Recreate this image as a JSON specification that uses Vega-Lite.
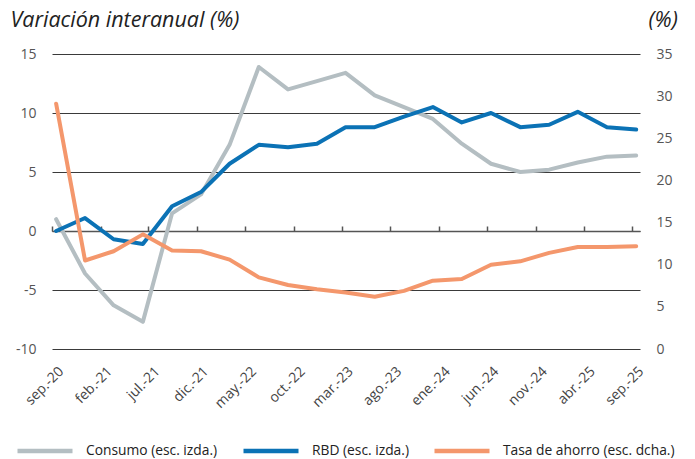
{
  "$schema": "https://vega.github.io/schema/vega-lite/v6.json",
  "width": 588,
  "height": 295,
  "autosize": {"type": "none"},
  "padding": {"left": 52, "top": 54, "right": 55, "bottom": 110},
  "background": "white",
  "config": {
    "view": {"stroke": null},
    "font": "Open Sans",
    "axis": {"labelFont": "Open Sans", "titleFont": "Open Sans"},
    "legend": {"labelFont": "Open Sans"}
  },
  "data": {
    "values": [
      {"date": "2020-09-01", "series": "Consumo (esc. izda.)", "value": 1.0},
      {"date": "2020-12-01", "series": "Consumo (esc. izda.)", "value": -3.6},
      {"date": "2021-03-01", "series": "Consumo (esc. izda.)", "value": -6.3},
      {"date": "2021-06-01", "series": "Consumo (esc. izda.)", "value": -7.7},
      {"date": "2021-09-01", "series": "Consumo (esc. izda.)", "value": 1.5},
      {"date": "2021-12-01", "series": "Consumo (esc. izda.)", "value": 3.1},
      {"date": "2022-03-01", "series": "Consumo (esc. izda.)", "value": 7.3},
      {"date": "2022-06-01", "series": "Consumo (esc. izda.)", "value": 13.9},
      {"date": "2022-09-01", "series": "Consumo (esc. izda.)", "value": 12.0},
      {"date": "2022-12-01", "series": "Consumo (esc. izda.)", "value": 12.7},
      {"date": "2023-03-01", "series": "Consumo (esc. izda.)", "value": 13.4},
      {"date": "2023-06-01", "series": "Consumo (esc. izda.)", "value": 11.5},
      {"date": "2023-09-01", "series": "Consumo (esc. izda.)", "value": 10.5},
      {"date": "2023-12-01", "series": "Consumo (esc. izda.)", "value": 9.5},
      {"date": "2024-03-01", "series": "Consumo (esc. izda.)", "value": 7.4},
      {"date": "2024-06-01", "series": "Consumo (esc. izda.)", "value": 5.7},
      {"date": "2024-09-01", "series": "Consumo (esc. izda.)", "value": 5.0},
      {"date": "2024-12-01", "series": "Consumo (esc. izda.)", "value": 5.2},
      {"date": "2025-03-01", "series": "Consumo (esc. izda.)", "value": 5.8},
      {"date": "2025-06-01", "series": "Consumo (esc. izda.)", "value": 6.3},
      {"date": "2025-09-01", "series": "Consumo (esc. izda.)", "value": 6.4},
      {"date": "2020-09-01", "series": "RBD (esc. izda.)", "value": 0.0},
      {"date": "2020-12-01", "series": "RBD (esc. izda.)", "value": 1.1},
      {"date": "2021-03-01", "series": "RBD (esc. izda.)", "value": -0.7},
      {"date": "2021-06-01", "series": "RBD (esc. izda.)", "value": -1.1},
      {"date": "2021-09-01", "series": "RBD (esc. izda.)", "value": 2.1},
      {"date": "2021-12-01", "series": "RBD (esc. izda.)", "value": 3.3},
      {"date": "2022-03-01", "series": "RBD (esc. izda.)", "value": 5.7},
      {"date": "2022-06-01", "series": "RBD (esc. izda.)", "value": 7.3},
      {"date": "2022-09-01", "series": "RBD (esc. izda.)", "value": 7.1},
      {"date": "2022-12-01", "series": "RBD (esc. izda.)", "value": 7.4},
      {"date": "2023-03-01", "series": "RBD (esc. izda.)", "value": 8.8},
      {"date": "2023-06-01", "series": "RBD (esc. izda.)", "value": 8.8},
      {"date": "2023-09-01", "series": "RBD (esc. izda.)", "value": 9.7},
      {"date": "2023-12-01", "series": "RBD (esc. izda.)", "value": 10.5},
      {"date": "2024-03-01", "series": "RBD (esc. izda.)", "value": 9.2},
      {"date": "2024-06-01", "series": "RBD (esc. izda.)", "value": 10.0},
      {"date": "2024-09-01", "series": "RBD (esc. izda.)", "value": 8.8},
      {"date": "2024-12-01", "series": "RBD (esc. izda.)", "value": 9.0},
      {"date": "2025-03-01", "series": "RBD (esc. izda.)", "value": 10.1},
      {"date": "2025-06-01", "series": "RBD (esc. izda.)", "value": 8.8},
      {"date": "2025-09-01", "series": "RBD (esc. izda.)", "value": 8.6},
      {"date": "2020-09-01", "series": "Tasa de ahorro (esc. dcha.)", "value": 29.1},
      {"date": "2020-12-01", "series": "Tasa de ahorro (esc. dcha.)", "value": 10.5},
      {"date": "2021-03-01", "series": "Tasa de ahorro (esc. dcha.)", "value": 11.6},
      {"date": "2021-06-01", "series": "Tasa de ahorro (esc. dcha.)", "value": 13.6},
      {"date": "2021-09-01", "series": "Tasa de ahorro (esc. dcha.)", "value": 11.7},
      {"date": "2021-12-01", "series": "Tasa de ahorro (esc. dcha.)", "value": 11.6},
      {"date": "2022-03-01", "series": "Tasa de ahorro (esc. dcha.)", "value": 10.6},
      {"date": "2022-06-01", "series": "Tasa de ahorro (esc. dcha.)", "value": 8.5},
      {"date": "2022-09-01", "series": "Tasa de ahorro (esc. dcha.)", "value": 7.6},
      {"date": "2022-12-01", "series": "Tasa de ahorro (esc. dcha.)", "value": 7.1},
      {"date": "2023-03-01", "series": "Tasa de ahorro (esc. dcha.)", "value": 6.7},
      {"date": "2023-06-01", "series": "Tasa de ahorro (esc. dcha.)", "value": 6.2},
      {"date": "2023-09-01", "series": "Tasa de ahorro (esc. dcha.)", "value": 6.9},
      {"date": "2023-12-01", "series": "Tasa de ahorro (esc. dcha.)", "value": 8.1},
      {"date": "2024-03-01", "series": "Tasa de ahorro (esc. dcha.)", "value": 8.3},
      {"date": "2024-06-01", "series": "Tasa de ahorro (esc. dcha.)", "value": 10.0},
      {"date": "2024-09-01", "series": "Tasa de ahorro (esc. dcha.)", "value": 10.4},
      {"date": "2024-12-01", "series": "Tasa de ahorro (esc. dcha.)", "value": 11.4},
      {"date": "2025-03-01", "series": "Tasa de ahorro (esc. dcha.)", "value": 12.1},
      {"date": "2025-06-01", "series": "Tasa de ahorro (esc. dcha.)", "value": 12.1},
      {"date": "2025-09-01", "series": "Tasa de ahorro (esc. dcha.)", "value": 12.2}
    ]
  },
  "layer": [
    {
      "transform": [{"filter": "datum.series !== 'Tasa de ahorro (esc. dcha.)'"}],
      "mark": {"type": "line", "strokeWidth": 4, "strokeCap": "round", "strokeJoin": "round"},
      "encoding": {
        "x": {
          "field": "date",
          "type": "temporal",
          "scale": {
            "type": "utc",
            "domain": [
              {"year": 2020, "month": 8, "date": 19, "utc": true},
              {"year": 2025, "month": 9, "date": 13, "utc": true}
            ]
          },
          "axis": {
            "orient": "bottom",
            "title": null,
            "domain": false,
            "ticks": false,
            "grid": false,
            "labelAngle": -45,
            "labelAlign": "right",
            "labelBaseline": "top",
            "labelPadding": 15,
            "labelFontSize": 14,
            "labelColor": "#444444",
            "labelOverlap": false,
            "values": [
              {"year": 2020, "month": 9, "date": 1, "utc": true},
              {"year": 2021, "month": 2, "date": 1, "utc": true},
              {"year": 2021, "month": 7, "date": 1, "utc": true},
              {"year": 2021, "month": 12, "date": 1, "utc": true},
              {"year": 2022, "month": 5, "date": 1, "utc": true},
              {"year": 2022, "month": 10, "date": 1, "utc": true},
              {"year": 2023, "month": 3, "date": 1, "utc": true},
              {"year": 2023, "month": 8, "date": 1, "utc": true},
              {"year": 2024, "month": 1, "date": 1, "utc": true},
              {"year": 2024, "month": 6, "date": 1, "utc": true},
              {"year": 2024, "month": 11, "date": 1, "utc": true},
              {"year": 2025, "month": 4, "date": 1, "utc": true},
              {"year": 2025, "month": 9, "date": 1, "utc": true}
            ],
            "labelExpr": "['ene','feb','mar','abr','may','jun','jul','ago','sep','oct','nov','dic'][utcmonth(datum.value)] + '.-' + utcFormat(datum.value, '%y')"
          }
        },
        "y": {
          "field": "value",
          "type": "quantitative",
          "scale": {"domain": [-10, 15], "nice": false, "zero": false},
          "axis": {
            "orient": "left",
            "values": [-10, -5, 0, 5, 10, 15],
            "labelExpr": "'' + datum.value",
            "grid": true,
            "gridColor": "#3a3a3a",
            "gridWidth": 1,
            "domain": false,
            "ticks": false,
            "labelPadding": 16,
            "labelFontSize": 14,
            "labelColor": "#555555",
            "title": "Variación interanual (%)",
            "titleAngle": 0,
            "titleX": -42,
            "titleY": -28,
            "titleAlign": "left",
            "titleBaseline": "alphabetic",
            "titleFontStyle": "italic",
            "titleFontWeight": "normal",
            "titleFontSize": 21.5,
            "titleColor": "#222222"
          }
        },
        "color": {
          "field": "series",
          "type": "nominal",
          "scale": {
            "domain": ["Consumo (esc. izda.)", "RBD (esc. izda.)", "Tasa de ahorro (esc. dcha.)"],
            "range": ["#b4bec2", "#0b72b5", "#f4976c"]
          },
          "legend": {
            "orient": "none",
            "legendX": -37,
            "legendY": 367,
            "direction": "horizontal",
            "gridAlign": "each",
            "title": null,
            "symbolType": "stroke",
            "symbolStrokeWidth": 4.5,
            "symbolSize": 3025,
            "labelFontSize": 13.8,
            "labelColor": "#222222",
            "labelOffset": 11,
            "columnPadding": 16,
            "labelLimit": 300
          }
        }
      }
    },
    {
      "transform": [{"filter": "datum.series === 'Tasa de ahorro (esc. dcha.)'"}],
      "mark": {"type": "line", "strokeWidth": 4, "strokeCap": "round", "strokeJoin": "round"},
      "encoding": {
        "x": {
          "field": "date",
          "type": "temporal",
          "axis": {
            "orient": "top",
            "offset": -177,
            "title": null,
            "labels": false,
            "grid": false,
            "domain": true,
            "domainColor": "#555555",
            "domainWidth": 1.5,
            "ticks": true,
            "tickColor": "#555555",
            "tickWidth": 1.5,
            "tickSize": 5,
            "tickOffset": -4,
            "values": [
              {"year": 2020, "month": 9, "date": 1, "utc": true},
              {"year": 2021, "month": 2, "date": 1, "utc": true},
              {"year": 2021, "month": 7, "date": 1, "utc": true},
              {"year": 2021, "month": 12, "date": 1, "utc": true},
              {"year": 2022, "month": 5, "date": 1, "utc": true},
              {"year": 2022, "month": 10, "date": 1, "utc": true},
              {"year": 2023, "month": 3, "date": 1, "utc": true},
              {"year": 2023, "month": 8, "date": 1, "utc": true},
              {"year": 2024, "month": 1, "date": 1, "utc": true},
              {"year": 2024, "month": 6, "date": 1, "utc": true},
              {"year": 2024, "month": 11, "date": 1, "utc": true},
              {"year": 2025, "month": 4, "date": 1, "utc": true},
              {"year": 2025, "month": 9, "date": 1, "utc": true}
            ]
          }
        },
        "y": {
          "field": "value",
          "type": "quantitative",
          "scale": {"domain": [0, 35], "nice": false},
          "axis": {
            "orient": "right",
            "values": [0, 5, 10, 15, 20, 25, 30, 35],
            "grid": false,
            "domain": false,
            "ticks": false,
            "labelPadding": 16,
            "labelFontSize": 14,
            "labelColor": "#555555",
            "title": "(%)",
            "titleAngle": 0,
            "titleX": 8,
            "titleY": -28,
            "titleAlign": "left",
            "titleBaseline": "alphabetic",
            "titleFontStyle": "italic",
            "titleFontWeight": "normal",
            "titleFontSize": 21.5,
            "titleColor": "#222222"
          }
        },
        "color": {
          "field": "series",
          "type": "nominal"
        }
      }
    }
  ],
  "resolve": {"scale": {"y": "independent"}}
}
